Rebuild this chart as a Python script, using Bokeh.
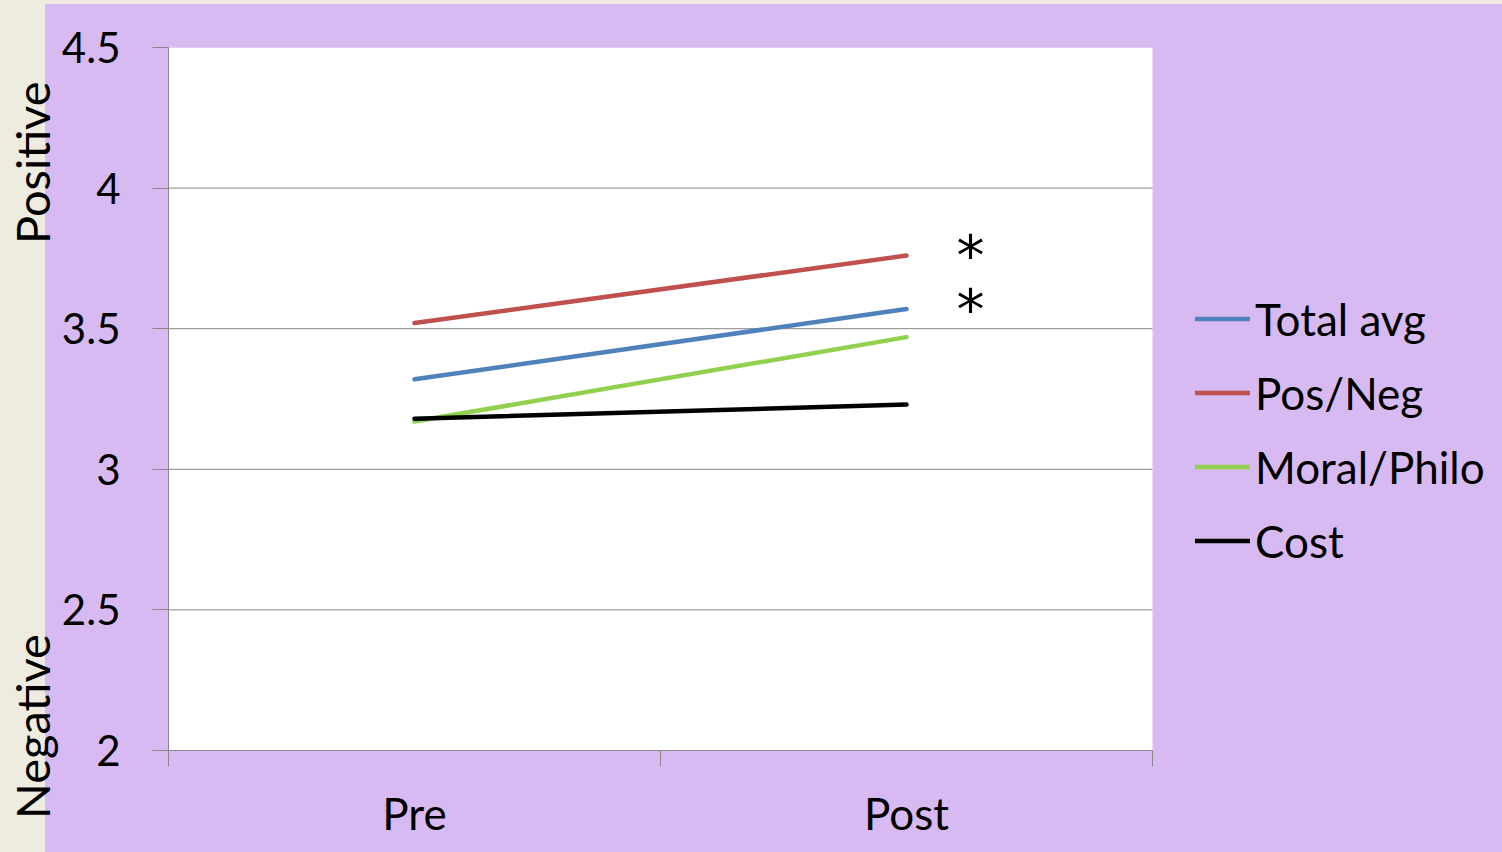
from bokeh.plotting import figure
from bokeh.models import (Range1d, FixedTicker, NumeralTickFormatter, Legend, LegendItem,
                          LinearAxis, ColumnDataSource, BoxAnnotation)
from bokeh.core.properties import value
from bokeh.embed import file_html
from bokeh.resources import INLINE

categories = ["Pre", "Post"]
series_names = ["Total avg", "Pos/Neg", "Moral/Philo", "Cost"]
total_avg = [3.32, 3.57]
pos_neg = [3.52, 3.76]
moral_philo = [3.17, 3.47]
cost = [3.18, 3.23]
y_ticks = [2, 2.5, 3, 3.5, 4, 4.5]
sig_series = [pos_neg, total_avg]   # series marked with an asterisk at Post
side_labels = {4.09: "Positive", 2.085: "Negative"}   # direction words beside the y axis

colors = ["#4F81BD", "#C0504D", "#92D050", "#000000"]
PURPLE = "#D8BAF2"
BEIGE = "#EEECE1"
GRAY = "#878787"
FONT = "Lato"

W, H = 1502, 852
LEFT, RIGHT_EDGE = 168, 1152          # pixel extent of the white plotting area
n_cat = len(categories)
x_pos = [i + 0.5 for i in range(n_cat)]
# the frame also spans the legend area to the right of the white plotting area
x_end = n_cat * (W - LEFT) / (RIGHT_EDGE - LEFT)

p = figure(width=W, height=H, output_backend="svg", toolbar_location=None,
           x_range=Range1d(0, x_end), y_range=Range1d(y_ticks[0], y_ticks[-1]),
           min_border_left=LEFT, min_border_right=0, min_border_top=47, min_border_bottom=102)
p.border_fill_alpha = 0
p.background_fill_alpha = 0
p.outline_line_color = None
p.styles = {"background": f"linear-gradient({PURPLE},{PURPLE}) 45px 4px / calc(100% - 45px) calc(100% - 4px) no-repeat, {BEIGE}"}

# white plotting area
p.add_layout(BoxAnnotation(left=0, right=n_cat, fill_color="white", fill_alpha=1,
                           line_color=None, level="underlay"))

# y axis
p.yaxis.ticker = FixedTicker(ticks=y_ticks)
p.yaxis.formatter = NumeralTickFormatter(format="0.[0]")
p.yaxis.major_tick_out = 16
p.yaxis.major_tick_in = 0
p.yaxis.minor_tick_line_color = None
p.yaxis.axis_line_color = GRAY
p.yaxis.major_tick_line_color = GRAY
p.yaxis.major_label_text_font = FONT
p.yaxis.major_label_text_font_size = "42px"
p.yaxis.major_label_text_color = "black"
p.yaxis.major_label_standoff = 32

# outer left axis carrying the "Positive" / "Negative" words
side_axis = LinearAxis(ticker=FixedTicker(ticks=list(side_labels.keys())),
                       major_label_overrides=side_labels,
                       major_label_orientation="vertical",
                       major_label_text_font=FONT, major_label_text_font_size="47px",
                       major_label_text_color="black", major_label_standoff=-2,
                       major_tick_line_color=None, major_tick_out=0, major_tick_in=0,
                       minor_tick_line_color=None, axis_line_color=None)
p.add_layout(side_axis, "left")

# x axis: labels at category centres, ticks at category boundaries
p.xaxis.ticker = FixedTicker(ticks=x_pos, minor_ticks=list(range(n_cat + 1)))
p.xaxis.bounds = (0, n_cat)
p.xaxis.major_label_overrides = {x: c for x, c in zip(x_pos, categories)}
p.xaxis.major_tick_line_color = None
p.xaxis.minor_tick_out = 16
p.xaxis.minor_tick_in = 0
p.xaxis.minor_tick_line_color = GRAY
p.xaxis.axis_line_color = GRAY
p.xaxis.major_label_text_font = FONT
p.xaxis.major_label_text_font_size = "44px"
p.xaxis.major_label_text_color = "black"
p.xaxis.major_label_standoff = 20

p.xgrid.visible = False
p.ygrid.visible = False
grid_vals = [t for t in y_ticks if y_ticks[0] < t < y_ticks[-1]]
p.segment(x0=[0] * len(grid_vals), x1=[n_cat] * len(grid_vals), y0=grid_vals, y1=grid_vals,
          line_color=GRAY, line_width=1)

renderers = []
for name, vals, col in zip(series_names, [total_avg, pos_neg, moral_philo, cost], colors):
    r = p.line(x_pos, vals, line_color=col, line_width=4.5, line_cap="round")
    renderers.append((name, r))

# significance asterisks
src = ColumnDataSource(dict(x=[x_pos[-1]] * len(sig_series), y=[s[-1] for s in sig_series],
                            t=["*"] * len(sig_series)))
p.text(x="x", y="y", text="t", source=src, x_offset=64, y_offset=0,
       text_font=value("DejaVu Sans"), text_font_size="56px", text_align="center",
       text_baseline="alphabetic", text_color="black")

legend = Legend(items=[LegendItem(label=n, renderers=[r]) for n, r in renderers],
                location=(1195 - LEFT, 183), orientation="vertical",
                label_text_font=FONT, label_text_font_size="44px", label_text_color="black",
                glyph_width=55, glyph_height=53, label_height=53, label_standoff=5,
                spacing=21, padding=0, margin=0,
                background_fill_alpha=0, border_line_color=None)
p.add_layout(legend, "center")

open("out.html", "w").write(file_html(p, INLINE))
